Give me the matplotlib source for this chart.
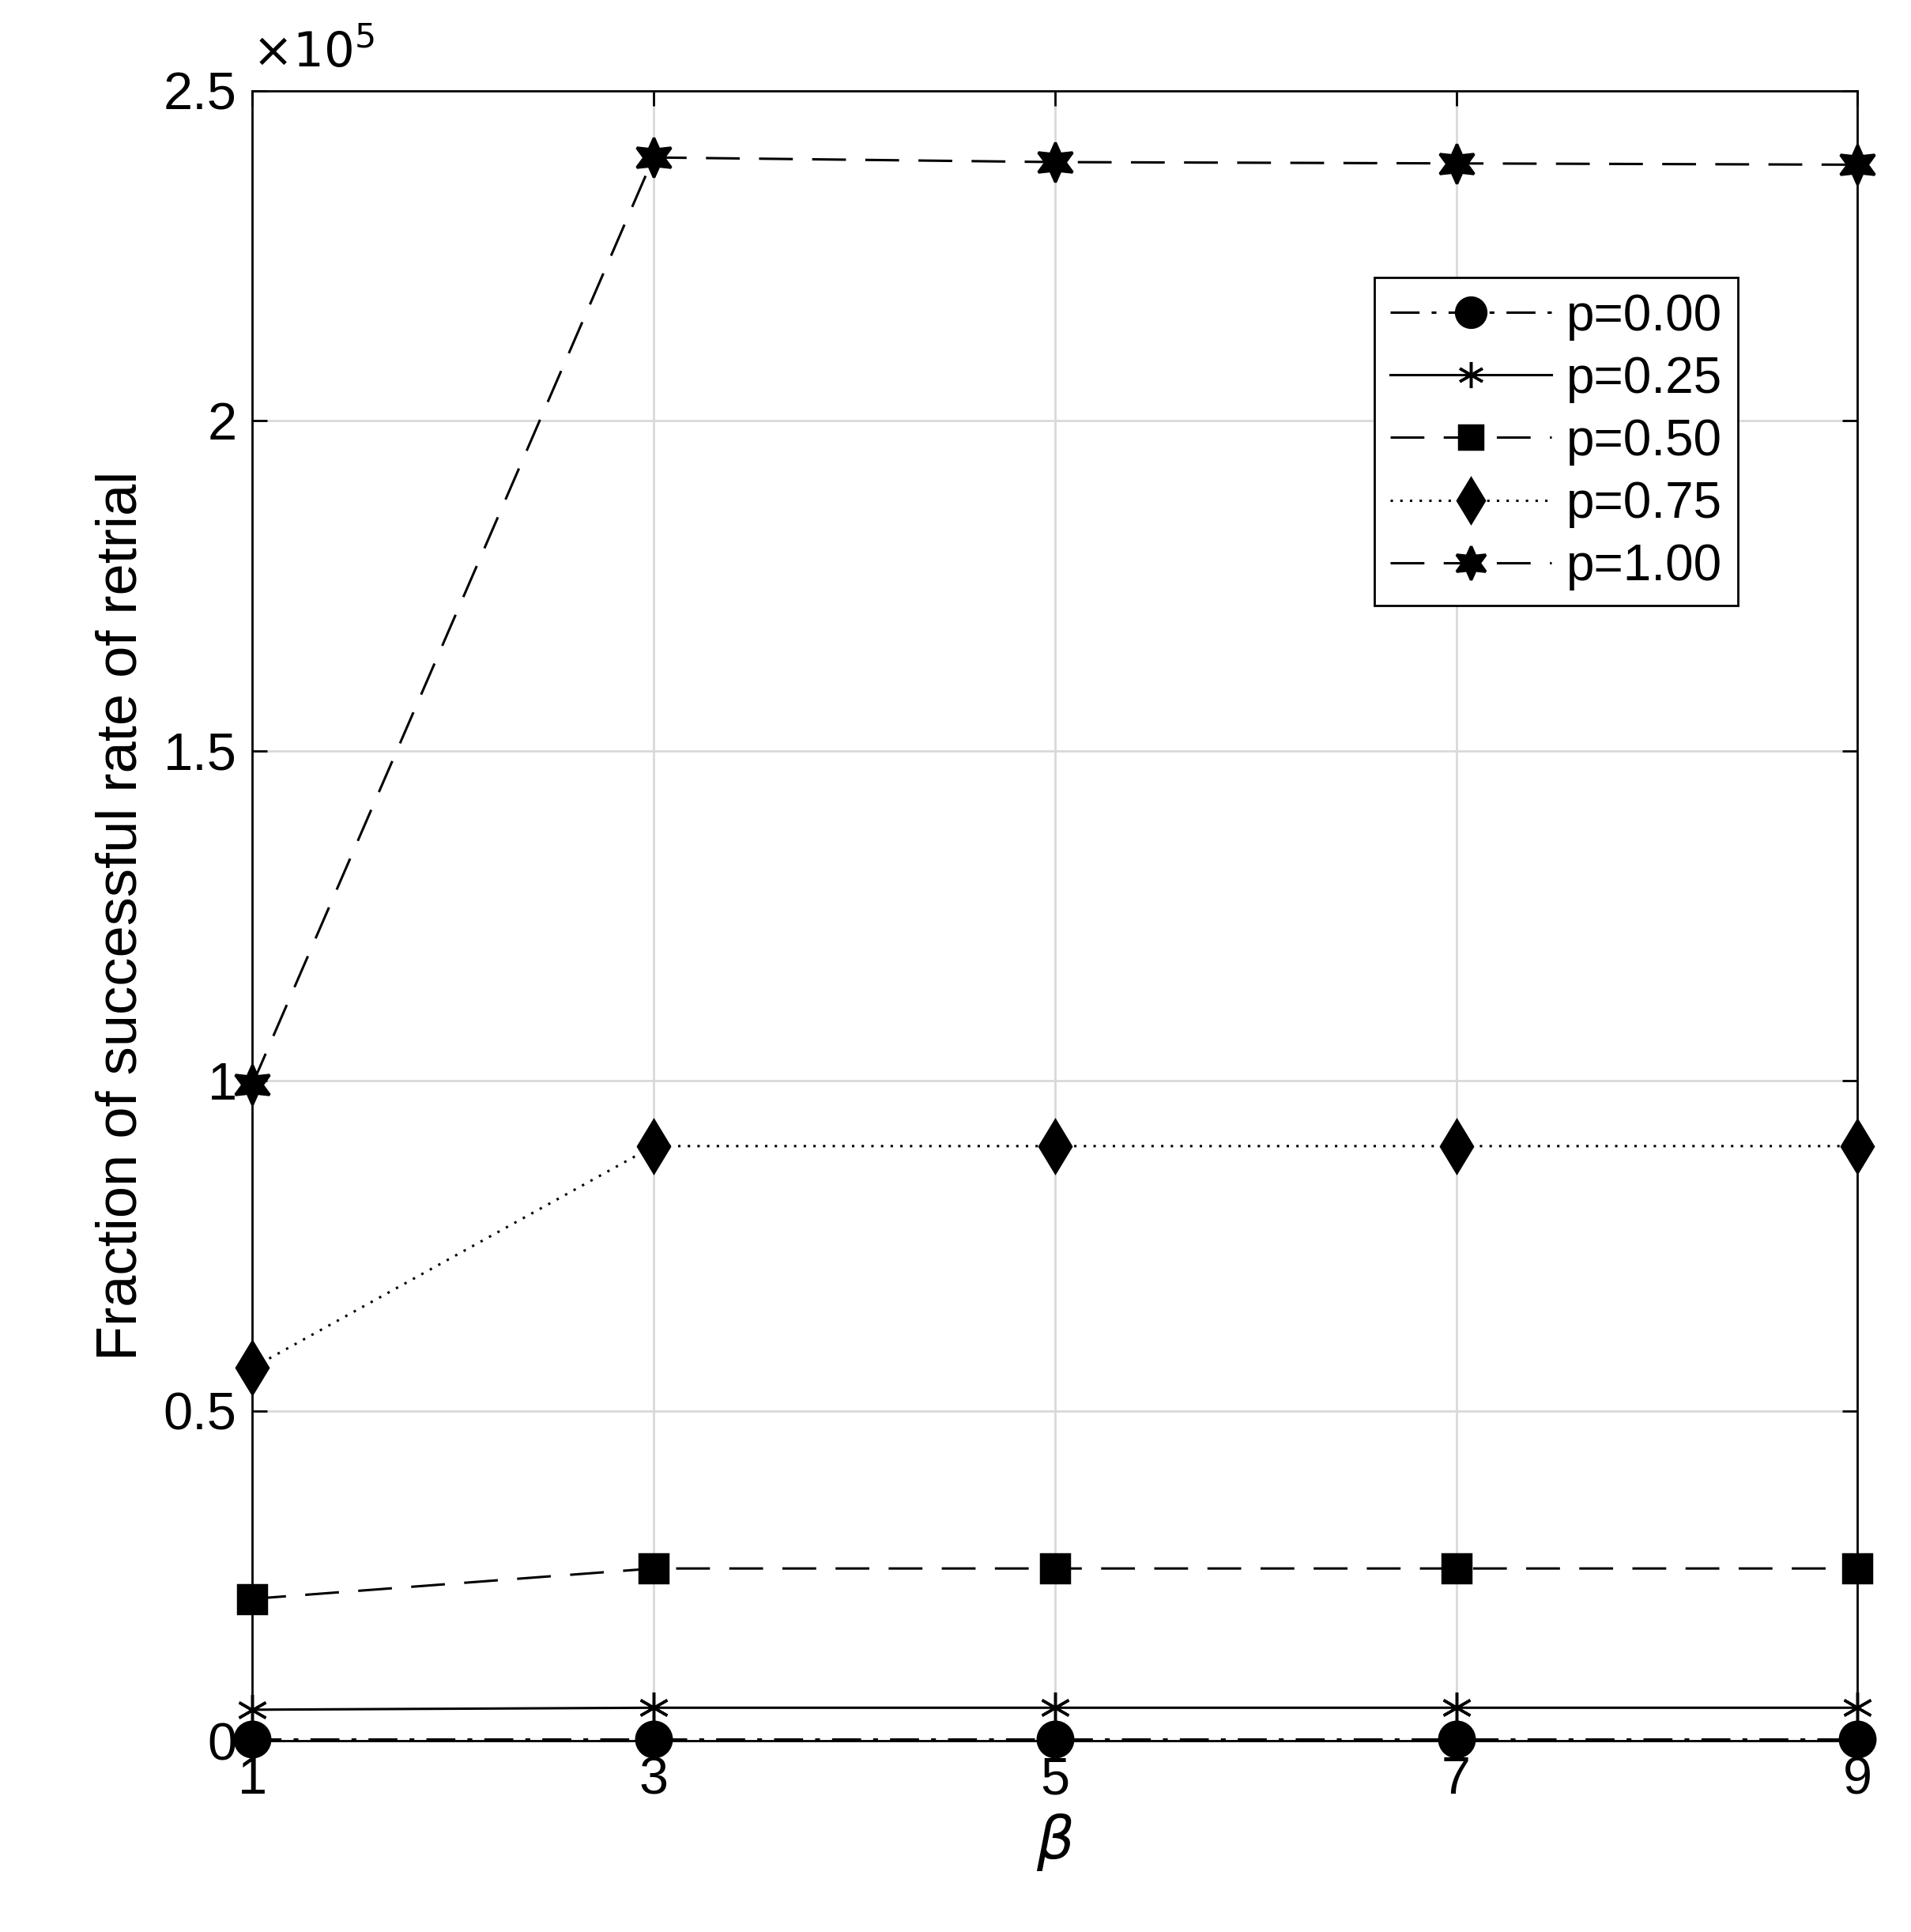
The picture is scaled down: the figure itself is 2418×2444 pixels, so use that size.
import matplotlib
matplotlib.use("Agg")
import matplotlib.pyplot as plt
from matplotlib.ticker import FuncFormatter

plt.rcParams['font.family'] = ['Liberation Sans', 'DejaVu Sans']

beta = [1, 3, 5, 7, 9]
labels = ['p=0.00', 'p=0.25', 'p=0.50', 'p=0.75', 'p=1.00']
p000 = [0.002e5, 0.002e5, 0.002e5, 0.002e5, 0.002e5]
p025 = [0.047e5, 0.050e5, 0.050e5, 0.050e5, 0.050e5]
p050 = [0.215e5, 0.261e5, 0.261e5, 0.261e5, 0.261e5]
p075 = [0.565e5, 0.901e5, 0.901e5, 0.901e5, 0.901e5]
p100 = [0.994e5, 2.399e5, 2.392e5, 2.390e5, 2.388e5]

series = [p000, p025, p050, p075, p100]
markers = ['o', (6, 2, 0), 's', 'd', (6, 1, 0)]
styles = [(0, (12, 5, 2, 5)), '-', (0, (14, 8)), (0, (1, 3)), (0, (14, 8))]
msizes = [32, 28, 26, 34, 36]

fig = plt.figure(figsize=(24.18, 24.44), dpi=100)
ax = fig.add_axes([0.132, 0.099, 0.84, 0.854])
for y, lab, m, ls, ms in zip(series, labels, markers, styles, msizes):
    ax.plot(beta, y, color='black', linestyle=ls, marker=m, markersize=ms,
            linewidth=2.2, label=lab, markerfacecolor='black', markeredgewidth=2.5,
            clip_on=False)

ax.set_xlim(1, 9)
ax.set_ylim(0, 2.5e5)
ax.set_xticks(beta)
ax.set_yticks([0, 0.5e5, 1e5, 1.5e5, 2e5, 2.5e5])
ax.yaxis.set_major_formatter(FuncFormatter(lambda v, p: '%g' % (v / 1e5)))
ax.text(0.0, 1.008, r'$\times10^5$', transform=ax.transAxes, fontsize=44,
        ha='left', va='bottom')
ax.grid(True, color='#d9d9d9', linewidth=2)
ax.set_axisbelow(True)
ax.tick_params(direction='in', length=14, width=2, labelsize=48, top=True, right=True, pad=14)
for s in ax.spines.values():
    s.set_linewidth(2)
ax.set_xlabel(r'$\beta$', fontsize=54, labelpad=6)
ax.set_ylabel('Fraction of successful rate of retrial', fontsize=52, labelpad=14)
leg = ax.legend(loc='upper right', bbox_to_anchor=(0.941, 0.902), fontsize=46,
                fancybox=False, edgecolor='black', handlelength=3.2, framealpha=1,
                labelspacing=0.3, handletextpad=0.3, borderpad=0.3, markerscale=0.85)
leg.get_frame().set_linewidth(2)
fig.savefig('out.png', dpi=100)
